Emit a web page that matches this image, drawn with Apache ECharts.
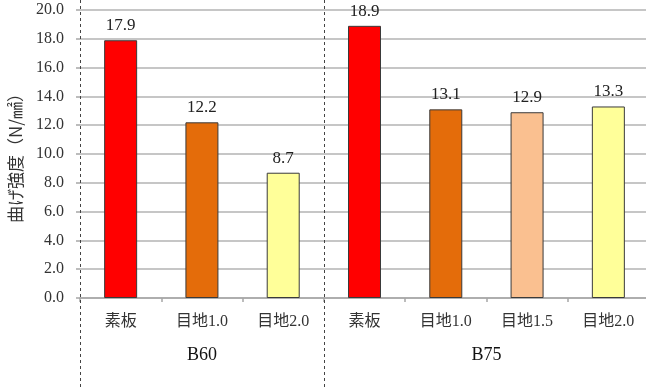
<!DOCTYPE html>
<html><head><meta charset="utf-8">
<script src="https://cdn.jsdelivr.net/npm/echarts@6/dist/echarts.min.js"></script>
<style>html,body{margin:0;padding:0;background:#fff}#c{width:646px;height:389px}</style>
</head><body><div id="c"></div>
<script>
const categories = ['素板', '目地1.0', '目地2.0', '素板', '目地1.0', '目地1.5', '目地2.0'];
const values = [17.9, 12.2, 8.7, 18.9, 13.1, 12.9, 13.3];
const barColors = ['#FF0000', '#E46C0A', '#FFFF99', '#FF0000', '#E46C0A', '#FAC090', '#FFFF99'];
const groups = ['B60', 'B75'];
const groupStart = [0, 3];
const groupEnd = [2, 6];
const yMin = 0, yMax = 20, yStep = 2;
const yName = '曲げ強度（N/㎟）';

const serif = "'Liberation Serif','Noto Sans CJK JP'";
const chart = echarts.init(document.getElementById('c'), null, {renderer: 'canvas'});
chart.setOption({
  animation: false,
  backgroundColor: '#fff',
  grid: {left: 80, top: 10, width: 569, height: 288, containLabel: false, outerBoundsMode: 'none'},
  xAxis: {
    type: 'category',
    data: categories,
    axisLine: {lineStyle: {color: '#a6a6a6', width: 1.5}},
    axisTick: {show: true, interval: 0, length: 4, lineStyle: {color: '#a6a6a6', width: 1.5}},
    axisLabel: {interval: 0, margin: 16, fontSize: 16, color: '#333', fontFamily: serif}
  },
  yAxis: {
    type: 'value',
    min: yMin, max: yMax, interval: yStep,
    name: yName,
    nameLocation: 'middle',
    nameGap: 56,
    nameRotate: 90,
    nameTextStyle: {fontSize: 17, color: '#333', fontFamily: "'Noto Sans CJK JP'"},
    axisLine: {show: false},
    axisTick: {show: true, length: 4, lineStyle: {color: '#a6a6a6', width: 1.5}},
    axisLabel: {margin: 16, fontSize: 16, color: '#333', fontFamily: serif, formatter: v => v.toFixed(1)},
    splitLine: {show: true, lineStyle: {color: '#b3b3b3', width: 1.5}}
  },
  series: [{
    type: 'bar',
    barWidth: 33,
    data: values.map((v, i) => ({value: v, itemStyle: {color: barColors[i]}})),
    itemStyle: {borderColor: '#3a3a3a', borderWidth: 1},
    label: {show: true, position: 'top', distance: 6, fontSize: 17, color: '#222', fontFamily: serif,
      formatter: p => p.value.toFixed(1)}
  }]
});

const px = i => chart.convertToPixel({xAxisIndex: 0}, i);
const band = px(1) - px(0);
const groupText = groups.map((g, i) => ({
  type: 'text', x: (px(groupStart[i]) + px(groupEnd[i])) / 2, y: 355,
  style: {text: g, fontSize: 18, fill: '#111', fontFamily: "'Liberation Serif'", align: 'center', verticalAlign: 'middle'}
}));
const lines = groupStart.map(s => {
  const x = Math.round(px(s) - band / 2) + 0.5;
  return {type: 'line', shape: {x1: x, y1: 0, x2: x, y2: 389},
    style: {stroke: '#444', lineWidth: 1, lineDash: [3, 3]}, z: 100};
});
chart.setOption({graphic: lines.concat(groupText)});
</script></body></html>
